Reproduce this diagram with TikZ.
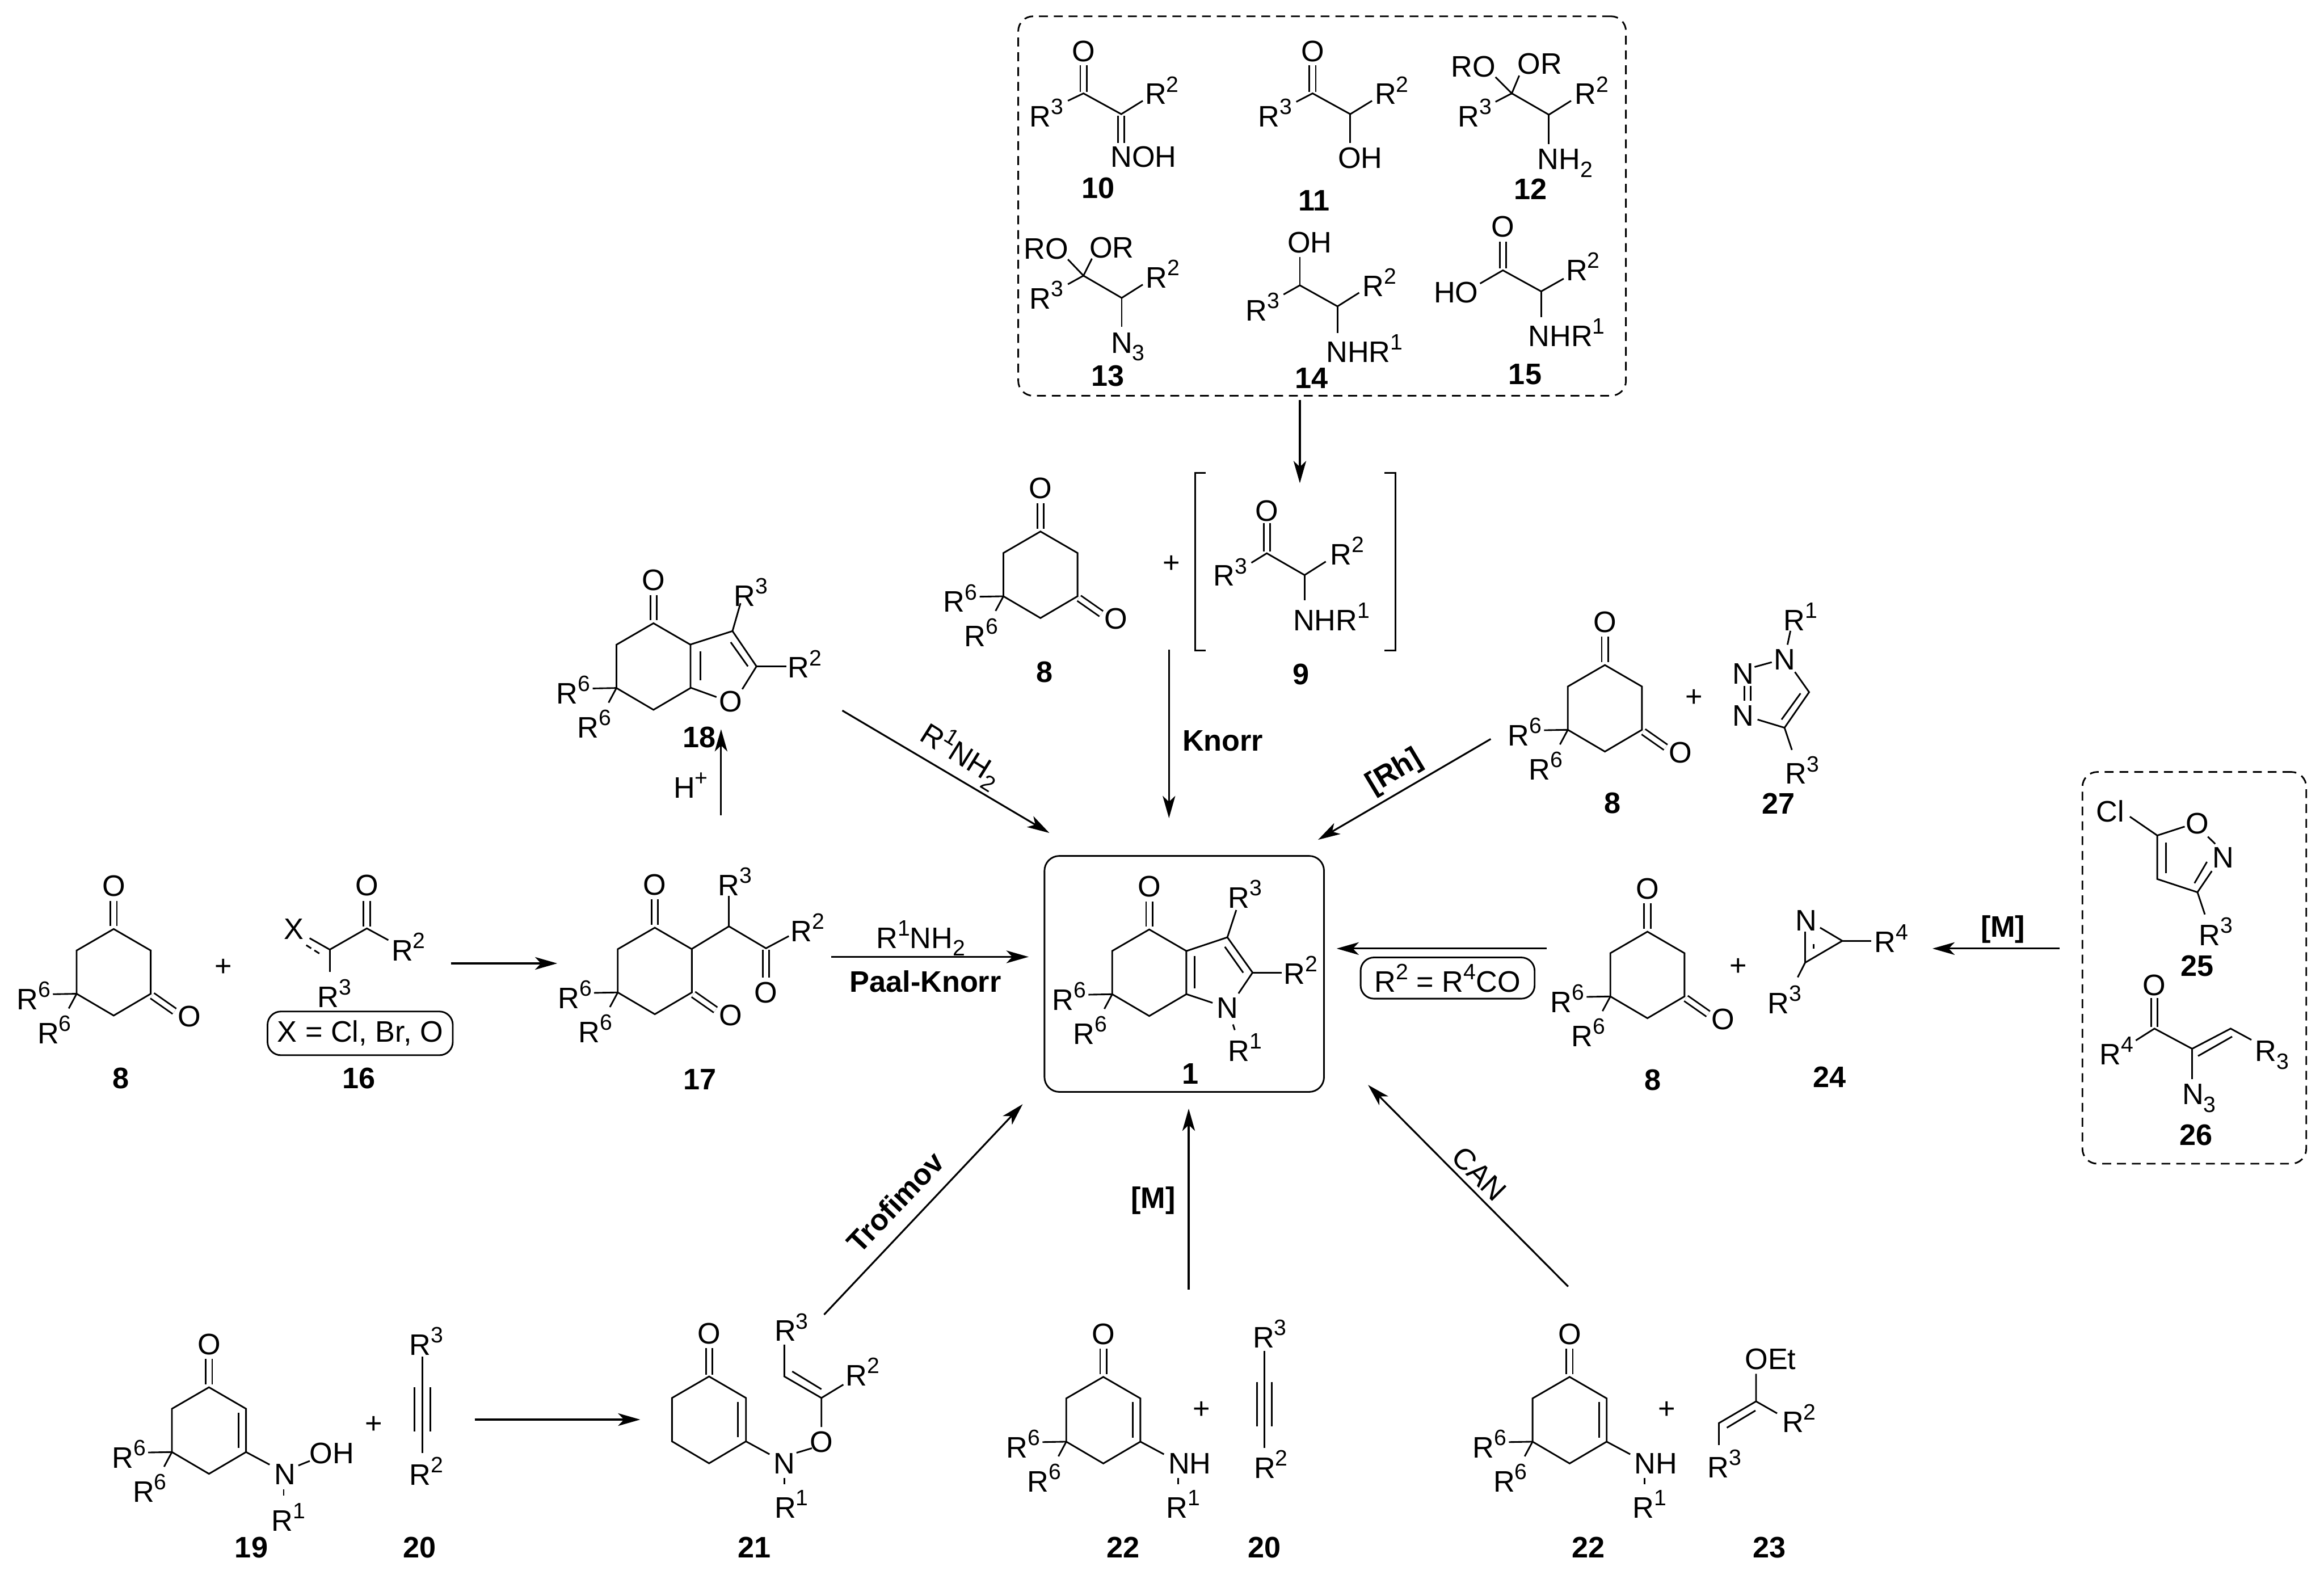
\documentclass[tikz,border=0pt]{standalone}
\usepackage{fontspec}
\setmainfont{Liberation Sans}
\usetikzlibrary{arrows.meta}
\newcommand{\upidx}[1]{\raisebox{.42em}{\fontsize{15}{15}\selectfont #1}}
\newcommand{\dnidx}[1]{\raisebox{-.26em}{\fontsize{15}{15}\selectfont #1}}
\tikzset{
	bond/.style={line width=1.1pt},
	dbl/.style={line width=1.1pt,double,double distance=3.2pt},
	atom/.style={inner sep=0pt,font=\fontsize{20}{22}\selectfont},
	cmpd/.style={inner sep=0pt,font=\fontsize{20}{22}\selectfont\bfseries},
	rxn/.style={line width=1.2pt,-{Stealth[length=15pt,width=8.5pt,inset=4pt]}},
	dashbox/.style={draw,line width=1.1pt,dash pattern=on 6pt off 4pt,rounded corners=10pt},
	tagbox/.style={draw,line width=1.1pt,rounded corners=9pt},
	pics/cyclo/.style={code={
		\draw[dbl] (0,-2) -- (0,-19);
		\draw[bond] (0,0) -- (-25,14.5) -- (-25,43.7) -- (0,58.4) -- (25,43.7) -- (25,14.5) -- cycle;
		\node[atom] (-O) at (0,-29) {O};
		\node[atom] (-Ra) at (-54,45) {R\upidx{6}};
		\node[atom] (-Rb) at (-40,68) {R\upidx{6}};
		\draw[bond] (-41,44) -- (-25,43.7);
		\draw[bond] (-25,43.7) -- (-30.3,53.6);
	}},
	pics/dione/.style={code={
		\pic (-c) at (0,0) {cyclo};
		\draw[dbl] (26,45) -- (41,55.5);
		\node[atom] (-P) at (51,59) {O};
	}},
	pics/enone/.style={code={
		\pic (-c) at (0,0) {cyclo};
		\draw[bond] (20,17) -- (20,41);
		\draw[bond] (25,43.7) -- (40.9,52.2);
	}},
}
\begin{document}
\begin{tikzpicture}[x=1pt,y=-1pt]
	\useasboundingbox (0,0) rectangle (1568,1065);

	% precursors of 9
	\node[dashbox,minimum width=410pt,minimum height=256pt] (top) at (892,139) {};
	\draw[dbl] (731,44) -- (731,62);
	\draw[bond] (720.5,68) -- (731,63) -- (756.5,77) -- (771,68);
	\draw[dbl] (756.5,78) -- (756.5,96.5);
	\node[atom] (o10) at (731,34.5) {O};
	\node[atom] (r10a) at (706,76) {R\upidx{3}};
	\node[atom] (r10b) at (784,61) {R\upidx{2}};
	\node[atom] (n10) at (771.5,106) {NOH};
	\node[cmpd] (c10) at (741,127) {10};

	\draw[dbl] (885.6,44) -- (885.6,62);
	\draw[bond] (874.6,68.7) -- (885.6,63) -- (911,77) -- (925.7,68);
	\draw[bond] (911,77) -- (911,96.5);
	\node[atom] (o11) at (885.6,34.5) {O};
	\node[atom] (r11a) at (860.4,76) {R\upidx{3}};
	\node[atom] (r11b) at (939,61) {R\upidx{2}};
	\node[atom] (h11) at (917.7,106.8) {OH};
	\node[cmpd] (c11) at (886.5,135.5) {11};

	\draw[bond] (1009,68.7) -- (1020,63) -- (1045,77.4) -- (1060,68);
	\draw[bond] (1009,52) -- (1020,63) -- (1025,51);
	\draw[bond] (1045,77.4) -- (1045,97.4);
	\node[atom] (a12) at (994,45) {RO};
	\node[atom] (b12) at (1039,43) {OR};
	\node[atom] (r12a) at (995,76) {R\upidx{3}};
	\node[atom] (r12b) at (1074,61) {R\upidx{2}};
	\node[atom] (n12) at (1056,110) {NH\dnidx{2}};
	\node[cmpd] (c12) at (1032.7,127.5) {12};

	\draw[bond] (720.5,191.8) -- (731,186) -- (756.8,201) -- (771,192);
	\draw[bond] (720.5,175) -- (731,186) -- (736.7,174.5);
	\draw[bond] (756.8,201) -- (756.8,220.5);
	\node[atom] (a13) at (705.7,168) {RO};
	\node[atom] (b13) at (750,167) {OR};
	\node[atom] (r13a) at (706,199) {R\upidx{3}};
	\node[atom] (r13b) at (784.4,185) {R\upidx{2}};
	\node[atom] (n13) at (761,234) {N\dnidx{3}};
	\node[cmpd] (c13) at (747.5,253.6) {13};

	\draw[bond] (866,198.7) -- (877,192.5) -- (902.4,206.7) -- (917,197.5);
	\draw[bond] (877,192.5) -- (877,173.6);
	\draw[bond] (902.4,206.7) -- (902.4,224.6);
	\node[atom] (h14) at (883.7,163.8) {OH};
	\node[atom] (r14a) at (852,207) {R\upidx{3}};
	\node[atom] (r14b) at (930.8,190.4) {R\upidx{2}};
	\node[atom] (n14) at (920.6,235) {NHR\upidx{1}};
	\node[cmpd] (c14) at (885,255) {14};

	\draw[dbl] (1014,163) -- (1014,181);
	\draw[bond] (998.6,191.3) -- (1014,182.4) -- (1039.8,196.6) -- (1055,188);
	\draw[bond] (1039.8,196.6) -- (1039.8,214);
	\node[atom] (o15) at (1014,153) {O};
	\node[atom] (h15) at (982.4,197.5) {HO};
	\node[atom] (r15b) at (1068,179.8) {R\upidx{2}};
	\node[atom] (n15) at (1057,224.5) {NHR\upidx{1}};
	\node[cmpd] (c15) at (1029,252.4) {15};

	\coordinate (topout) at (877,270);
	\coordinate (topin) at (877,326);
	\draw[rxn] (topout) -- (topin);

	% Knorr
	\pic (k8) at (702,358.6) {dione};
	\node[cmpd] (c8a) at (704.6,453.6) {8};
	\node[atom] (pk) at (790.3,380.5) {+};
	\draw[bond] (813.4,319) -- (806.5,319) -- (806.5,438.8) -- (813.4,438.8);
	\draw[bond] (934.2,319) -- (941.6,319) -- (941.6,438.8) -- (934.2,438.8);
	\draw[dbl] (854.7,353) -- (854.7,372);
	\draw[bond] (844.3,379.7) -- (854.7,373.3) -- (880.2,388) -- (894.5,378.9);
	\draw[bond] (880.2,388) -- (880.2,405);
	\node[atom] (o9) at (854.7,344.7) {O};
	\node[atom] (r9a) at (830,386) {R\upidx{3}};
	\node[atom] (r9b) at (908.8,371.7) {R\upidx{2}};
	\node[atom] (n9) at (898.3,416) {NHR\upidx{1}};
	\node[cmpd] (c9) at (877.9,454.9) {9};
	\coordinate (knorrs) at (788.7,438.5);
	\coordinate (knorre) at (788.7,552);
	\draw[rxn] (knorrs) -- (knorre);
	\node[cmpd] (knorr) at (825,499.7) {Knorr};

	% furan 18
	\pic (f) at (440.9,420.5) {cyclo};
	\draw[bond] (466,434.8) -- (494.2,425.8) -- (510.4,449.6) -- (500.8,465);
	\draw[bond] (466,464) -- (483.4,470.3);
	\draw[bond] (472.6,439.3) -- (472.6,459);
	\draw[bond] (493,433.3) -- (504.6,449.6);
	\draw[bond] (494.2,425.8) -- (499.6,407);
	\draw[bond] (510.4,449.6) -- (530.5,449.6);
	\node[atom] (o18) at (493,473.5) {O};
	\node[atom] (r18a) at (506.5,399.6) {R\upidx{3}};
	\node[atom] (r18b) at (543,448) {R\upidx{2}};
	\node[cmpd] (c18) at (471.8,497.3) {18};
	\coordinate (acids) at (486.5,550);
	\coordinate (acide) at (486.5,492);
	\draw[rxn] (acids) -- (acide);
	\node[atom] (hplus) at (466,530) {H\upidx{+}};
	\coordinate (fur) at (568.3,479.4);
	\coordinate (fure) at (708,562);
	\draw[rxn] (fur) -- (fure);
	\node[atom,rotate=-32] (fulab) at (648.5,509) {R\upidx{1}NH\dnidx{2}};

	% Rh route
	\pic (r8) at (1082.8,448.7) {dione};
	\node[cmpd] (c8b) at (1087.8,542) {8};
	\node[atom] (prh) at (1143,471) {+};
	\draw[bond] (1208,425.6) -- (1206,435);
	\draw[bond] (1183.8,450) -- (1195.4,446.8);
	\draw[dbl] (1179,463) -- (1179,472.7);
	\draw[bond] (1211,453.4) -- (1220.6,467) -- (1204,491) -- (1185.8,485.5);
	\draw[bond] (1214.8,467.8) -- (1202,485.5);
	\draw[bond] (1204,491) -- (1209,506);
	\node[atom] (n27a) at (1204,445) {N};
	\node[atom] (n27b) at (1176,454.7) {N};
	\node[atom] (n27c) at (1176,482.8) {N};
	\node[atom] (r27a) at (1214.8,416) {R\upidx{1}};
	\node[atom] (r27b) at (1216,519.6) {R\upidx{3}};
	\node[cmpd] (c27) at (1200,542) {27};
	\coordinate (rhs) at (1005.8,498.6);
	\coordinate (rhe) at (889.3,566.6);
	\draw[rxn] (rhs) -- (rhe);
	\node[cmpd,rotate=31] (rhlab) at (941,521) {[Rh]};

	% left route
	\pic (l8) at (76.7,626.8) {dione};
	\node[cmpd] (c8c) at (81.7,727.7) {8};
	\node[atom] (pl) at (150.8,652.7) {+};
	\draw[dbl] (247.5,607.8) -- (247.5,625);
	\draw[bond] (208.9,633) -- (222.5,640.7) -- (247.5,626.4) -- (262,634.3);
	\draw[bond,dash pattern=on 4pt off 2.5pt] (206.6,637.7) -- (217,644.3);
	\draw[bond] (222.5,640.7) -- (222.5,655.7);
	\node[atom] (o16) at (247.5,597.5) {O};
	\node[atom] (x16) at (198.4,626.8) {X};
	\node[atom] (r16b) at (275.6,639) {R\upidx{2}};
	\node[atom] (r16a) at (225.7,670.4) {R\upidx{3}};
	\node[atom,tagbox,minimum width=125pt,minimum height=29.5pt] (xtag) at (243,697.2) {X = Cl, Br, O};
	\node[cmpd] (c16) at (242,727.7) {16};
	\coordinate (ls) at (304.2,650);
	\coordinate (le) at (376,650);
	\draw[rxn] (ls) -- (le);

	\pic (t) at (441.8,625.9) {dione};
	\draw[bond] (466.8,640.2) -- (491.8,625) -- (516.8,639.8) -- (532.2,631.6);
	\draw[bond] (491.8,625) -- (491.8,604.4);
	\draw[dbl] (516.8,641) -- (516.8,659.5);
	\node[atom] (r17a) at (495.9,594.8) {R\upidx{3}};
	\node[atom] (r17b) at (544.9,626) {R\upidx{2}};
	\node[atom] (o17) at (516.8,669.8) {O};
	\node[cmpd] (c17) at (472.3,728.3) {17};
	\coordinate (pks) at (560.8,645.6);
	\coordinate (pke) at (694,645.6);
	\draw[rxn] (pks) -- (pke);
	\node[atom] (pka) at (621.2,633) {R\upidx{1}NH\dnidx{2}};
	\node[cmpd] (pkb) at (624.4,662.3) {Paal-Knorr};

	% target
	\node[draw,line width=1.1pt,rounded corners=10pt,minimum width=188.6pt,minimum height=159.2pt] (prod) at (799,657.1) {};
	\pic (m) at (775.4,627.1) {cyclo};
	\draw[bond] (800.6,641.6) -- (828.1,632.4) -- (845.1,656.2) -- (835.6,670.3);
	\draw[bond] (800.6,670.8) -- (818.1,676.6);
	\draw[bond] (805.9,645.2) -- (805.9,667);
	\draw[bond] (826.4,638.8) -- (838.8,656.3);
	\draw[bond] (828.1,632.4) -- (834.1,614);
	\draw[bond] (845.1,656.2) -- (864.6,656.2);
	\draw[bond] (831.9,691.2) -- (833.1,695);
	\node[atom] (n1) at (828.1,680.1) {N};
	\node[atom] (r1c) at (840,603.2) {R\upidx{3}};
	\node[atom] (r1b) at (877.6,654.7) {R\upidx{2}};
	\node[atom] (r1a) at (840,706.8) {R\upidx{1}};
	\node[cmpd] (c1) at (803.1,724.6) {1};

	% azirine route
	\coordinate (azs) at (1043.7,640);
	\coordinate (aze) at (901.8,640);
	\draw[rxn] (azs) -- (aze);
	\node[atom,tagbox,minimum width=117.4pt,minimum height=27.8pt] (rtag) at (976.7,659.9) {R\upidx{2} = R\upidx{4}CO};
	\pic (a8) at (1111.5,628.6) {dione};
	\node[cmpd] (c8d) at (1115,728.6) {8};
	\node[atom] (pa) at (1173,652.3) {+};
	\draw[bond] (1217.9,628.6) -- (1217.9,649.5) -- (1243,634.8) -- (1228,625.9);
	\draw[bond] (1223.7,637) -- (1223.7,640);
	\draw[bond] (1243,634.8) -- (1262.4,634.8);
	\draw[bond] (1217.9,649.5) -- (1212.9,659.4);
	\node[atom] (n24) at (1218.6,621.2) {N};
	\node[atom] (r24a) at (1276,633) {R\upidx{4}};
	\node[atom] (r24b) at (1204,674.4) {R\upidx{3}};
	\node[cmpd] (c24) at (1234.5,726.7) {24};
	\coordinate (ms) at (1389.7,640);
	\coordinate (me) at (1303.8,640);
	\draw[rxn] (ms) -- (me);
	\node[cmpd] (mlab) at (1351.4,627) {[M]};

	\node[dashbox,minimum width=151pt,minimum height=264.3pt] (right) at (1480.5,653) {};
	\draw[bond] (1437,551) -- (1455.5,563.7) -- (1474,557.7);
	\draw[bond] (1489.6,564.5) -- (1494.6,569.4);
	\draw[bond] (1492.3,587.7) -- (1482.6,602) -- (1455.5,593.1) -- (1455.5,563.7);
	\draw[bond] (1480.6,595.9) -- (1489,581.5);
	\draw[bond] (1461.3,568.6) -- (1461.3,589);
	\draw[bond] (1482.6,602) -- (1487.6,617);
	\node[atom] (cl25) at (1423.8,547.4) {Cl};
	\node[atom] (o25) at (1482.6,555.8) {O};
	\node[atom] (n25) at (1500,578.7) {N};
	\node[atom] (r25) at (1495,628.6) {R\upidx{3}};
	\node[cmpd] (c25) at (1482.6,651.7) {25};
	\draw[dbl] (1453.6,673.5) -- (1453.6,693);
	\draw[bond] (1441,702) -- (1453.6,694) -- (1479,707.6) -- (1505,694) -- (1519,701.6);
	\draw[bond] (1483,712.5) -- (1506,699.4);
	\draw[bond] (1479,707.6) -- (1479,728);
	\node[atom] (o26) at (1453.6,664.8) {O};
	\node[atom] (r26a) at (1428,709) {R\upidx{4}};
	\node[atom] (r26b) at (1533,712) {R\dnidx{3}};
	\node[atom] (n26) at (1483.7,741) {N\dnidx{3}};
	\node[cmpd] (c26) at (1481.8,766) {26};

	% bottom row
	\pic (b) at (141,936) {enone};
	\draw[bond] (201.3,988.8) -- (209,985.7);
	\draw[bond] (191.4,1004.7) -- (191.4,1009);
	\node[atom] (n19) at (192.3,994.9) {N};
	\node[atom] (h19) at (224,980.4) {OH};
	\node[atom] (r19) at (194.5,1023.7) {R\upidx{1}};
	\node[cmpd] (c19) at (169.6,1044) {19};
	\node[atom] (pb) at (252.2,961.5) {+};
	\draw[bond] (284.9,915.2) -- (284.9,980.2);
	\draw[bond] (279.5,936) -- (279.5,966);
	\draw[bond] (290.4,936) -- (290.4,966);
	\node[atom] (r20a) at (287.6,905) {R\upidx{3}};
	\node[atom] (r20b) at (287.6,992.4) {R\upidx{2}};
	\node[cmpd] (c20a) at (283,1044) {20};
	\coordinate (bs) at (320.3,957.8);
	\coordinate (be) at (432,957.8);
	\draw[rxn] (bs) -- (be);

	\draw[dbl] (478.4,909.5) -- (478.4,927.5);
	\draw[bond] (478.4,928.7) -- (453.4,943.2) -- (453.4,972.5) -- (478.4,987.3) -- (503.3,972.5) -- (503.3,943.2) -- cycle;
	\draw[bond] (497.9,945.9) -- (497.9,969.8);
	\draw[bond] (503.3,972.5) -- (519.2,981.2);
	\draw[bond] (537.4,980.2) -- (547.8,977.1);
	\draw[bond] (554.2,962.8) -- (554.2,943.2) -- (529.2,928.7) -- (529.2,907.2);
	\draw[bond] (534.5,925.3) -- (554.2,937.3);
	\draw[bond] (554.2,943.2) -- (569,934.2);
	\draw[bond] (529.2,997.3) -- (529.2,1001.6);
	\node[atom] (o21) at (478.4,899.9) {O};
	\node[atom] (n21) at (529.2,987.5) {N};
	\node[atom] (q21) at (554.2,972.8) {O};
	\node[atom] (r21a) at (534,895.5) {R\upidx{3}};
	\node[atom] (r21b) at (581.9,925.5) {R\upidx{2}};
	\node[atom] (r21c) at (534,1015) {R\upidx{1}};
	\node[cmpd] (c21) at (508.8,1044) {21};
	\coordinate (trs) at (556,887);
	\coordinate (tre) at (690,745);
	\draw[rxn] (trs) -- (tre);
	\node[cmpd,rotate=46.6] (trlab) at (604,811) {Trofimov};

	\pic (g) at (744.4,929) {enone};
	\draw[bond] (795,997.3) -- (795,1001.6);
	\node[atom] (n22) at (802.7,987.5) {NH};
	\node[atom] (r22) at (798.4,1015) {R\upidx{1}};
	\node[cmpd] (c22a) at (757.9,1044) {22};
	\node[atom] (pg) at (810.8,951.4) {+};
	\draw[bond] (853.2,911.5) -- (853.2,977.1);
	\draw[bond] (848.2,932.4) -- (848.2,962.4);
	\draw[bond] (858.2,932.4) -- (858.2,962.4);
	\node[atom] (r20c) at (856.7,900) {R\upidx{3}};
	\node[atom] (r20d) at (857.5,988) {R\upidx{2}};
	\node[cmpd] (c20b) at (853.2,1044) {20};
	\coordinate (ms2) at (802,870);
	\coordinate (me2) at (802,748);
	\draw[rxn] (ms2) -- (me2);
	\node[cmpd] (mlab2) at (778,810) {[M]};

	\pic (h) at (1059,929) {enone};
	\draw[bond] (1109.6,997.3) -- (1109.6,1001.6);
	\node[atom] (n22b) at (1117.3,987.5) {NH};
	\node[atom] (r22b) at (1113,1015) {R\upidx{1}};
	\node[cmpd] (c22b) at (1071.7,1044) {22};
	\node[atom] (ph) at (1124.6,951.4) {+};
	\draw[bond] (1184.8,926.9) -- (1184.8,945.5) -- (1159.7,960.2) -- (1159.7,975);
	\draw[bond] (1184.8,945.5) -- (1199,953.6);
	\draw[bond] (1184.4,951.7) -- (1165.1,963.3);
	\node[atom] (o23) at (1194.5,917) {OEt};
	\node[atom] (r23a) at (1163.6,987.5) {R\upidx{3}};
	\node[atom] (r23b) at (1213.8,957) {R\upidx{2}};
	\node[cmpd] (c23) at (1193.7,1044) {23};
	\coordinate (cans) at (1058,868);
	\coordinate (cane) at (923,732);
	\draw[rxn] (cans) -- (cane);
	\node[atom,rotate=-45] (canlab) at (998,792) {CAN};
\end{tikzpicture}
\end{document}
